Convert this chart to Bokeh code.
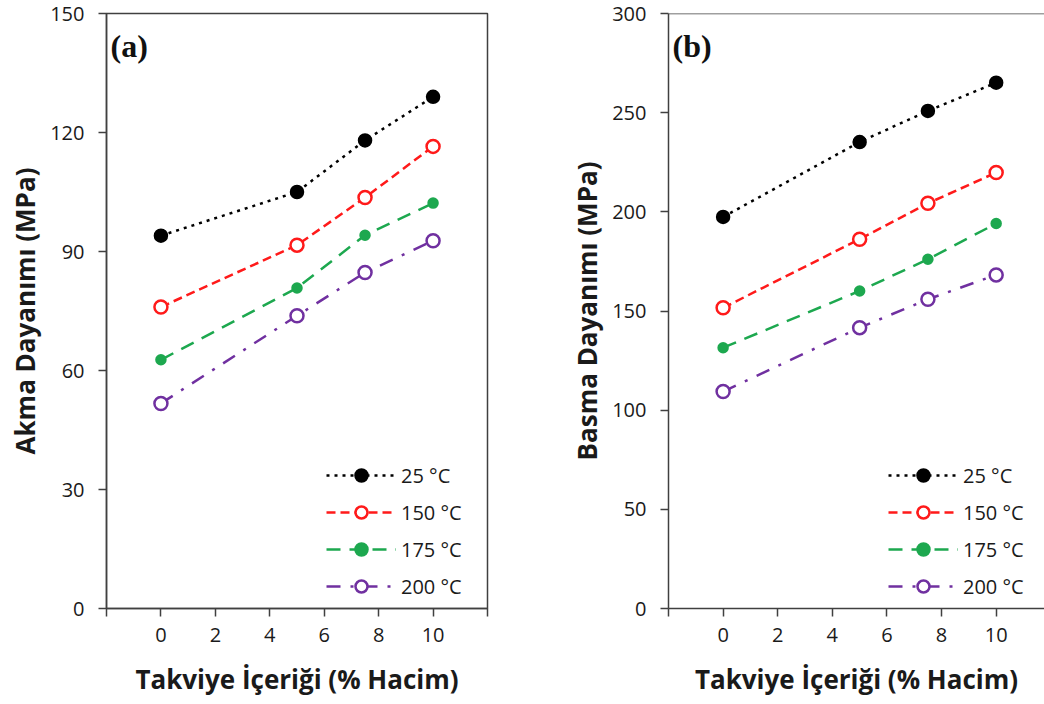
from bokeh.plotting import figure
from bokeh.layouts import row
from bokeh.models import FixedTicker, Span, Label, Range1d
from bokeh.embed import file_html
from bokeh.resources import INLINE

# ---- data ----
x_content = [0, 5, 7.5, 10]
temps = ["25 °C", "150 °C", "175 °C", "200 °C"]

yield_25 = [94.0, 105.0, 118.0, 129.0]
yield_150 = [76.0, 91.6, 103.6, 116.5]
yield_175 = [62.7, 80.8, 94.1, 102.2]
yield_200 = [51.7, 73.8, 84.7, 92.7]

comp_25 = [197.4, 235.2, 250.9, 265.1]
comp_150 = [151.6, 186.2, 204.3, 219.8]
comp_175 = [131.5, 160.1, 176.1, 194.1]
comp_200 = [109.4, 141.6, 155.9, 168.2]

x_ticks = [-2, 0, 2, 4, 6, 8, 10, 12]
yield_ticks = [0, 30, 60, 90, 120, 150]
comp_ticks = [0, 50, 100, 150, 200, 250, 300]

# ---- styles ----
styles = [
    dict(color="#000000", dash="3 5", fill="#000000", size=12),
    dict(color="#FF1A1A", dash="9 5", fill="white", size=13),
    dict(color="#1DA84F", dash="14 9", fill="#1DA84F", size=9),
    dict(color="#7030A0", dash="14 10 3 10", fill="white", size=13),
]

FONT = "Open Sans"
TXT = "#1a1a1a"
AX = "#404040"


def make_panel(series, ticks, ymax, ylabel, tag, width, border_left, border_right, xend, full_outline):
    p = figure(width=width, height=704, output_backend="svg", toolbar_location=None,
               x_range=Range1d(-2, xend), y_range=Range1d(0, ymax),
               min_border_left=border_left, min_border_right=border_right,
               min_border_top=13, min_border_bottom=96)
    p.grid.visible = False
    p.background_fill_color = "white"
    p.border_fill_color = "white"
    if full_outline:
        p.outline_line_color = AX
        p.outline_line_width = 1.5
    else:
        p.outline_line_color = None
        p.add_layout(Span(location=ymax, dimension="width", line_color=AX, line_width=1.5))

    for vals, lab, st in zip(series, temps, styles):
        p.line(x_content, vals, line_color=st["color"], line_width=2.5,
               line_dash=st["dash"], legend_label=lab)
        p.scatter(x_content, vals, marker="circle", size=st["size"],
                  line_color=st["color"], line_width=2.5, fill_color=st["fill"],
                  legend_label=lab)

    xa = p.xaxis[0]
    xa.ticker = FixedTicker(ticks=x_ticks)
    xa.major_label_overrides = {-2: "", 12: ""}
    xa.axis_label = "Takviye İçeriği (% Hacim)"
    ya = p.yaxis[0]
    ya.ticker = FixedTicker(ticks=ticks)
    ya.axis_label = ylabel
    for ax in (xa, ya):
        ax.minor_tick_line_color = None
        ax.major_tick_in = 0
        ax.major_tick_out = 8
        ax.major_tick_line_color = AX
        ax.major_tick_line_width = 1.5
        ax.axis_line_color = AX
        ax.axis_line_width = 1.5
        ax.major_label_text_font = FONT
        ax.major_label_text_font_size = "20px"
        ax.major_label_text_color = TXT
        ax.axis_label_text_font = FONT
        ax.axis_label_text_font_size = "26px"
        ax.axis_label_text_font_style = "bold"
        ax.axis_label_text_color = TXT
    xa.major_label_standoff = 11
    xa.axis_label_standoff = 16
    ya.major_label_standoff = 14
    ya.axis_label_standoff = 4

    p.add_layout(Label(x=-1.85, y=ymax * 0.975, text=tag, text_font="Liberation Serif",
                       text_font_style="bold", text_font_size="32px", text_color="#111111",
                       text_baseline="top"))

    lg = p.legend[0]
    lg.location = (220, 7)
    lg.border_line_color = None
    lg.background_fill_alpha = 0
    lg.padding = 0
    lg.margin = 0
    lg.spacing = 7
    lg.glyph_width = 70
    lg.glyph_height = 30
    lg.label_height = 30
    lg.label_standoff = 5
    lg.label_text_font = FONT
    lg.label_text_font_size = "20px"
    lg.label_text_color = TXT
    return p


p1 = make_panel([yield_25, yield_150, yield_175, yield_200], yield_ticks, 150,
                "Akma Dayanımı (MPa)", "(a)", 520, 106, 33, 12, True)
p2 = make_panel([comp_25, comp_150, comp_175, comp_200], comp_ticks, 300,
                "Basma Dayanımı (MPa)", "(b)", 524, 148, 0, 11.77, False)

layout = row(p1, p2)
open("out.html", "w").write(file_html(layout, INLINE))
